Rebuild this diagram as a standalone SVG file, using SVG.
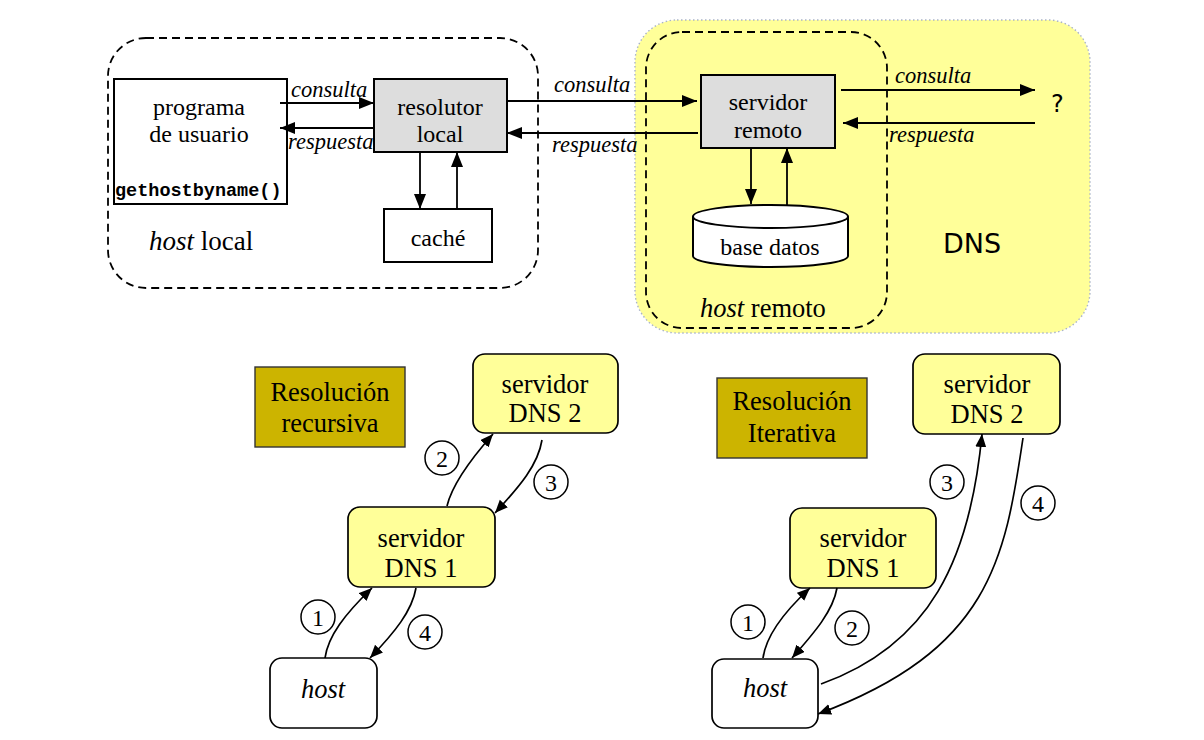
<svg xmlns="http://www.w3.org/2000/svg" width="1204" height="740" viewBox="0 0 1204 740">
<style>
.serif{font-family:"Liberation Serif","Times New Roman",serif;fill:#000}
.lbl{font-size:24px;text-anchor:middle}
.it{font-style:italic}
.big{font-size:26.5px;text-anchor:middle}
.num{font-size:24px;text-anchor:middle}
.lab{font-size:22.5px;font-style:italic}
.box{stroke:#000;stroke-width:2}
.dash{fill:none;stroke:#000;stroke-width:1.8;stroke-dasharray:8,5}
.node{fill:#ffff99;stroke:#000;stroke-width:1.7}
.wnode{fill:#fff;stroke:#000;stroke-width:1.7}
.title{fill:#ccb400;stroke:#333;stroke-width:1.4}
.edge{fill:none;stroke:#000;stroke-width:1.8}
.edge2{fill:none;stroke:#000;stroke-width:1.7}
.circ{fill:#fff;stroke:#000;stroke-width:1.5}
</style>
<defs>
<marker id="ah" markerUnits="userSpaceOnUse" markerWidth="16" markerHeight="12" refX="15" refY="6" orient="auto">
<path d="M0,0 L15,6 L0,12 z" fill="#000"/>
</marker>
<marker id="ah2" markerUnits="userSpaceOnUse" markerWidth="14" markerHeight="12" refX="13" refY="5.5" orient="auto">
<path d="M0,0 L13,5.5 L0,11 z" fill="#000"/>
</marker>
</defs>
<rect width="1204" height="740" fill="#fff"/>

<g id="dns-region">
<rect x="635" y="20" width="455" height="313" rx="42" fill="#ffff99" stroke="#aab4c8" stroke-width="1.4" stroke-dasharray="1.5,2.5"/>
<text x="943" y="253" font-family="DejaVu Sans,Verdana,sans-serif" font-size="27">DNS</text>
<text x="1051" y="112" font-family="DejaVu Sans,Verdana,sans-serif" font-size="24">?</text>
</g>

<g id="host-local">
<rect x="108" y="38" width="430" height="250" rx="38" class="dash"/>
<text x="149" y="250" class="serif" font-size="27"><tspan font-style="italic">host</tspan> local</text>
</g>

<g id="host-remoto">
<rect x="646" y="32" width="241" height="296" rx="36" class="dash"/>
<text x="700" y="317" class="serif" font-size="26.5"><tspan font-style="italic">host</tspan> remoto</text>
</g>

<g id="programa">
<rect x="114" y="79" width="173" height="125" fill="#fff" class="box"/>
<text x="199" y="115" class="serif lbl">programa</text>
<text x="199" y="142" class="serif lbl">de usuario</text>
<text x="115" y="196" font-family="Liberation Mono,Courier New,monospace" font-weight="bold" font-size="18.5">gethostbyname()</text>
</g>

<g id="resolutor">
<rect x="374" y="79" width="133" height="73" fill="#dddddd" class="box"/>
<text x="440" y="115" class="serif lbl">resolutor</text>
<text x="440" y="142" class="serif lbl">local</text>
</g>

<g id="cache">
<rect x="384" y="209" width="108" height="53" fill="#fff" class="box"/>
<text x="438" y="246" class="serif lbl">caché</text>
</g>

<g id="servidor-remoto">
<rect x="701" y="75" width="134" height="73" fill="#dddddd" class="box"/>
<text x="768" y="110" class="serif lbl">servidor</text>
<text x="768" y="138" class="serif lbl">remoto</text>
</g>

<g id="base-datos">
<path d="M693,216.5 L693,256 A77.5,11 0 0 0 848,256 L848,216.5" fill="#fff" class="box"/>
<ellipse cx="770.5" cy="216.5" rx="77.5" ry="11.5" fill="#fff" class="box"/>
<text x="770" y="255" class="serif lbl">base datos</text>
</g>

<g id="top-connectors">
<line x1="280" y1="103" x2="374" y2="103" class="edge" marker-end="url(#ah)"/>
<line x1="374" y1="128" x2="280" y2="128" class="edge" marker-end="url(#ah)"/>
<line x1="507" y1="101" x2="697" y2="101" class="edge" marker-end="url(#ah)"/>
<line x1="698" y1="133" x2="507" y2="133" class="edge" marker-end="url(#ah)"/>
<line x1="841" y1="90" x2="1035" y2="90" class="edge" marker-end="url(#ah)"/>
<line x1="1035" y1="123" x2="843" y2="123" class="edge" marker-end="url(#ah)"/>
<line x1="420" y1="152" x2="420" y2="209" class="edge" marker-end="url(#ah)"/>
<line x1="457" y1="209" x2="457" y2="152" class="edge" marker-end="url(#ah)"/>
<line x1="751" y1="148" x2="751" y2="204" class="edge" marker-end="url(#ah)"/>
<line x1="787" y1="205" x2="787" y2="148" class="edge" marker-end="url(#ah)"/>
<text x="291" y="97" class="serif lab">consulta</text>
<text x="288" y="149" class="serif lab">respuesta</text>
<text x="554" y="92" class="serif lab">consulta</text>
<text x="552" y="152" class="serif lab">respuesta</text>
<text x="895" y="83" class="serif lab">consulta</text>
<text x="889" y="142" class="serif lab">respuesta</text>
</g>

<g id="titulo-recursiva">
<rect x="255" y="367" width="150" height="80" class="title"/>
<text x="330" y="401" class="serif big">Resolución</text>
<text x="330" y="432" class="serif big">recursiva</text>
</g>
<g id="rec-dns2">
<rect x="473" y="354" width="145" height="79" rx="12" class="node"/>
<text x="545" y="393" class="serif big">servidor</text>
<text x="545" y="422" class="serif big">DNS 2</text>
</g>
<g id="rec-dns1">
<rect x="348" y="507" width="147" height="80" rx="12" class="node"/>
<text x="421" y="547" class="serif big">servidor</text>
<text x="421" y="577" class="serif big">DNS 1</text>
</g>
<g id="rec-host">
<rect x="270" y="658" width="107" height="70" rx="12" class="wnode"/>
<text x="323" y="698" class="serif big it">host</text>
</g>

<g id="titulo-iterativa">
<rect x="717" y="378" width="150" height="80" class="title"/>
<text x="792" y="410" class="serif big">Resolución</text>
<text x="792" y="442" class="serif big">Iterativa</text>
</g>
<g id="it-dns2">
<rect x="913" y="354" width="147" height="80" rx="12" class="node"/>
<text x="987" y="393" class="serif big">servidor</text>
<text x="987" y="423" class="serif big">DNS 2</text>
</g>
<g id="it-dns1">
<rect x="790" y="508" width="146" height="80" rx="12" class="node"/>
<text x="863" y="547" class="serif big">servidor</text>
<text x="863" y="577" class="serif big">DNS 1</text>
</g>
<g id="it-host">
<rect x="712" y="659" width="106" height="69" rx="12" class="wnode"/>
<text x="765" y="697" class="serif big it">host</text>
</g>

<g id="bottom-connectors">
<path d="M325,658 C328,636 345,614 372,588" class="edge2" marker-end="url(#ah2)"/>
<path d="M416,588 C412,611 395,632 370,658" class="edge2" marker-end="url(#ah2)"/>
<path d="M447,506 C452,485 470,460 493,434" class="edge2" marker-end="url(#ah2)"/>
<path d="M542,440 C538,465 520,486 495,513" class="edge2" marker-end="url(#ah2)"/>
<path d="M763,658 C766,636 784,612 810,588" class="edge2" marker-end="url(#ah2)"/>
<path d="M837,588 C833,611 815,632 792,658" class="edge2" marker-end="url(#ah2)"/>
<path d="M821,684 C930,645 970,560 982,434" class="edge2" marker-end="url(#ah2)"/>
<path d="M1023,438 C1005,560 990,650 818,714" class="edge2" marker-end="url(#ah2)"/>
<circle cx="442" cy="458" r="17" class="circ"/><text x="442" y="466.5" class="serif num">2</text>
<circle cx="318" cy="617" r="17" class="circ"/><text x="318" y="625.5" class="serif num">1</text>
<circle cx="425" cy="632" r="17" class="circ"/><text x="425" y="640.5" class="serif num">4</text>
<circle cx="551" cy="482" r="17" class="circ"/><text x="551" y="490.5" class="serif num">3</text>
<circle cx="748" cy="622" r="17" class="circ"/><text x="748" y="630.5" class="serif num">1</text>
<circle cx="852" cy="628" r="17" class="circ"/><text x="852" y="636.5" class="serif num">2</text>
<circle cx="947" cy="482" r="17" class="circ"/><text x="947" y="490.5" class="serif num">3</text>
<circle cx="1038" cy="503" r="17" class="circ"/><text x="1038" y="511.5" class="serif num">4</text>
</g>
</svg>
